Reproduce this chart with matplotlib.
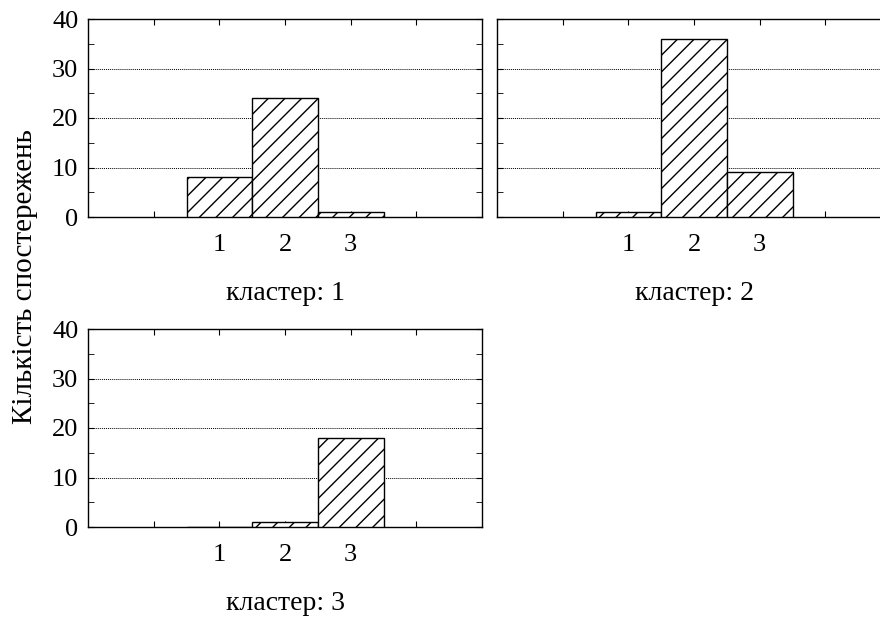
import numpy as np
import matplotlib
matplotlib.use('Agg')
import matplotlib.pyplot as plt

plt.rcParams['font.family'] = ['Liberation Serif', 'DejaVu Serif']
plt.rcParams['hatch.linewidth'] = 1.0

clusters = ['кластер: 1', 'кластер: 2', 'кластер: 3']
categories = ['1', '2', '3']
counts = [
    [8, 24, 1],
    [1, 36, 9],
    [0, 1, 18],
]
ylabel = 'Кількість спостережень'

fig = plt.figure(figsize=(8.8, 6.19), dpi=100)
w, h = 394 / 880, 198 / 619
boxes = [
    (88 / 880, 1 - 217 / 619),
    (497 / 880, 1 - 217 / 619),
    (88 / 880, 1 - 527 / 619),
]

for i, ((left, bottom), title, vals) in enumerate(zip(boxes, clusters, counts)):
    ax = fig.add_axes([left, bottom, w, h])
    x = np.arange(2, 2 + len(vals))
    ax.bar(x, vals, width=1.0, color='white', edgecolor='black',
           hatch='//', linewidth=1.0, zorder=3)
    ax.set_xlim(0, 6)
    ax.set_ylim(0, 40)
    ax.set_xticks([1, 2, 3, 4, 5])
    ax.set_xticklabels([''] + categories + [''])
    ax.set_yticks([0, 10, 20, 30, 40])
    ax.set_yticks([5, 15, 25, 35], minor=True)
    ax.yaxis.grid(True, linestyle=(0, (1, 1)), color='black', linewidth=0.7)
    ax.tick_params(axis='x', direction='in', top=True, bottom=True,
                   length=4, labelsize=19, pad=12)
    ax.tick_params(axis='y', which='both', direction='in', left=True,
                   right=True, length=4, labelsize=19, pad=7)
    if i == 1:
        ax.tick_params(axis='y', labelleft=False)
    for s in ax.spines.values():
        s.set_linewidth(1.0)
    ax.set_xlabel(title, fontsize=20, labelpad=18)

fig.text(25 / 880, 1 - 277 / 619, ylabel, rotation=90, fontsize=21,
         ha='center', va='center')

fig.savefig('out.png', dpi=100)
